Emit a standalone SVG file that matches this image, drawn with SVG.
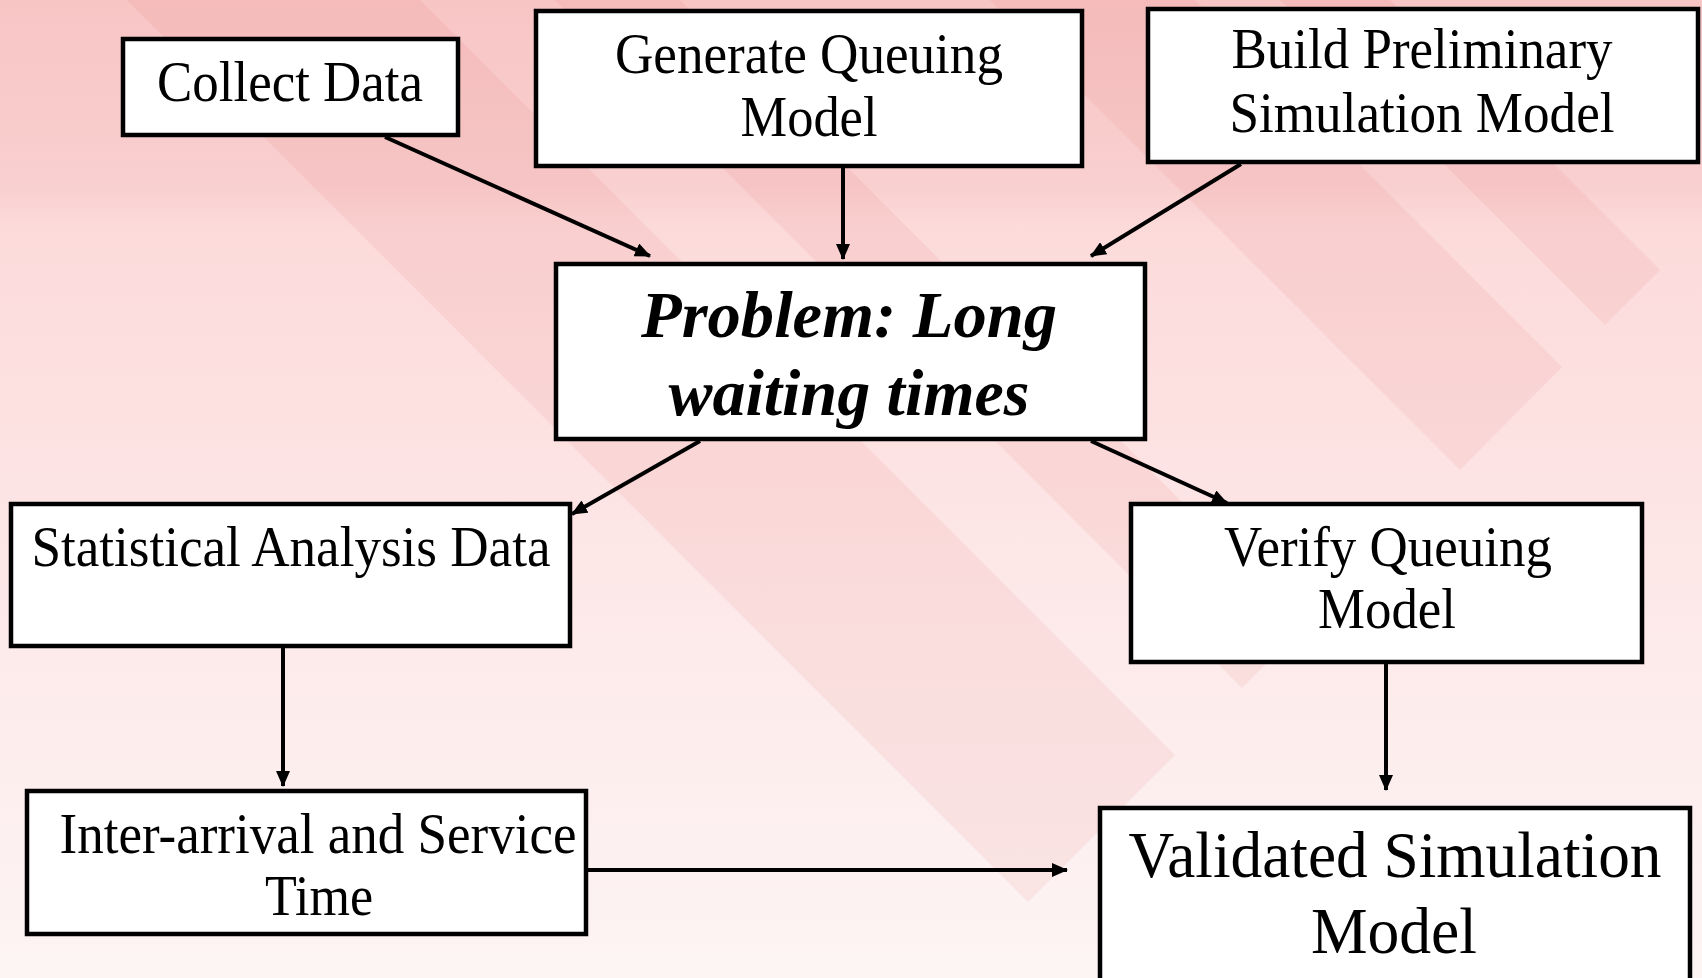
<svg xmlns="http://www.w3.org/2000/svg" width="1702" height="978" viewBox="0 0 1702 978">
  <defs>
    <linearGradient id="bg" x1="0" y1="0" x2="0" y2="1">
      <stop offset="0" stop-color="#f8c5c5"/>
      <stop offset="0.19" stop-color="#f9cfcf"/>
      <stop offset="0.23" stop-color="#fcdada"/>
      <stop offset="0.45" stop-color="#fde2e2"/>
      <stop offset="0.65" stop-color="#fdeaea"/>
      <stop offset="1" stop-color="#fdf4f4"/>
    </linearGradient>
    <marker id="ah" viewBox="0 0 16 14" refX="15" refY="7" markerWidth="16" markerHeight="14" markerUnits="userSpaceOnUse" orient="auto">
      <path d="M0,0 L16,7 L0,14 z" fill="#000"/>
    </marker>
    <style>
      .box { fill: #ffffff; stroke: #000000; stroke-width: 4.5; }
      .t { font-family: "Liberation Serif", "Times New Roman", serif; font-size: 56px; fill: #000; text-anchor: middle; }
      .tb { font-family: "Liberation Serif", "Times New Roman", serif; font-size: 66px; font-weight: bold; font-style: italic; fill: #000; text-anchor: middle; }
      .tl { font-family: "Liberation Serif", "Times New Roman", serif; font-size: 65px; fill: #000; text-anchor: middle; }
      .band { fill: #e06a6a; fill-opacity: 0.1; }
      .conn { stroke: #000; stroke-width: 4; fill: none; marker-end: url(#ah); }
    </style>
  </defs>

  <g id="background">
    <rect x="0" y="0" width="1702" height="978" fill="url(#bg)"/>
    <polygon class="band" points="27,-100 320,-100 1175,755 1028,902"/>
    <polygon class="band" points="455,-100 580,-100 1305,625 1242,688"/>
    <polygon class="band" points="890,-100 1095,-100 1562,367 1460,470"/>
    <polygon class="band" points="1180,-100 1290,-100 1660,270 1605,325"/>
  </g>

  <g id="connectors">
    <line class="conn" x1="385" y1="137" x2="650" y2="256"/>
    <line class="conn" x1="843" y1="168" x2="843" y2="259"/>
    <line class="conn" x1="1241" y1="164" x2="1091" y2="256"/>
    <line class="conn" x1="700" y1="441" x2="572" y2="514"/>
    <line class="conn" x1="1091" y1="441" x2="1227" y2="503"/>
    <line class="conn" x1="283" y1="648" x2="283" y2="786"/>
    <line class="conn" x1="588" y1="870" x2="1067" y2="870"/>
    <line class="conn" x1="1386" y1="664" x2="1386" y2="790"/>
  </g>

  <g id="collect-data">
    <rect class="box" x="123" y="39" width="335" height="96"/>
    <text class="t" x="290" y="101" textLength="266" lengthAdjust="spacingAndGlyphs">Collect Data</text>
  </g>

  <g id="generate-queuing-model">
    <rect class="box" x="536" y="11" width="546" height="155"/>
    <text class="t" x="809" y="73" textLength="388" lengthAdjust="spacingAndGlyphs">Generate Queuing</text>
    <text class="t" x="809" y="136" textLength="137" lengthAdjust="spacingAndGlyphs">Model</text>
  </g>

  <g id="build-preliminary">
    <rect class="box" x="1148" y="9" width="550" height="153"/>
    <text class="t" x="1422" y="68" textLength="381" lengthAdjust="spacingAndGlyphs">Build Preliminary</text>
    <text class="t" x="1422" y="132" textLength="385" lengthAdjust="spacingAndGlyphs">Simulation Model</text>
  </g>

  <g id="problem">
    <rect class="box" x="556" y="264" width="589" height="175"/>
    <text class="tb" x="849" y="337" textLength="416" lengthAdjust="spacingAndGlyphs">Problem: Long</text>
    <text class="tb" x="849" y="415" textLength="361" lengthAdjust="spacingAndGlyphs">waiting times</text>
  </g>

  <g id="statistical-analysis">
    <rect class="box" x="11" y="504" width="559" height="142"/>
    <text class="t" x="291" y="566" textLength="519" lengthAdjust="spacingAndGlyphs">Statistical Analysis Data</text>
  </g>

  <g id="inter-arrival">
    <rect class="box" x="27" y="791" width="559" height="143"/>
    <text class="t" x="318" y="853" textLength="517" lengthAdjust="spacingAndGlyphs">Inter-arrival and Service</text>
    <text class="t" x="319" y="915" textLength="108" lengthAdjust="spacingAndGlyphs">Time</text>
  </g>

  <g id="verify-queuing">
    <rect class="box" x="1131" y="504" width="511" height="158"/>
    <text class="t" x="1388" y="566" textLength="328" lengthAdjust="spacingAndGlyphs">Verify Queuing</text>
    <text class="t" x="1387" y="628" textLength="138" lengthAdjust="spacingAndGlyphs">Model</text>
  </g>

  <g id="validated-simulation">
    <rect class="box" x="1100" y="808" width="590" height="200"/>
    <text class="tl" x="1395" y="877" textLength="533" lengthAdjust="spacingAndGlyphs">Validated Simulation</text>
    <text class="tl" x="1394" y="953" textLength="166" lengthAdjust="spacingAndGlyphs">Model</text>
  </g>
</svg>
